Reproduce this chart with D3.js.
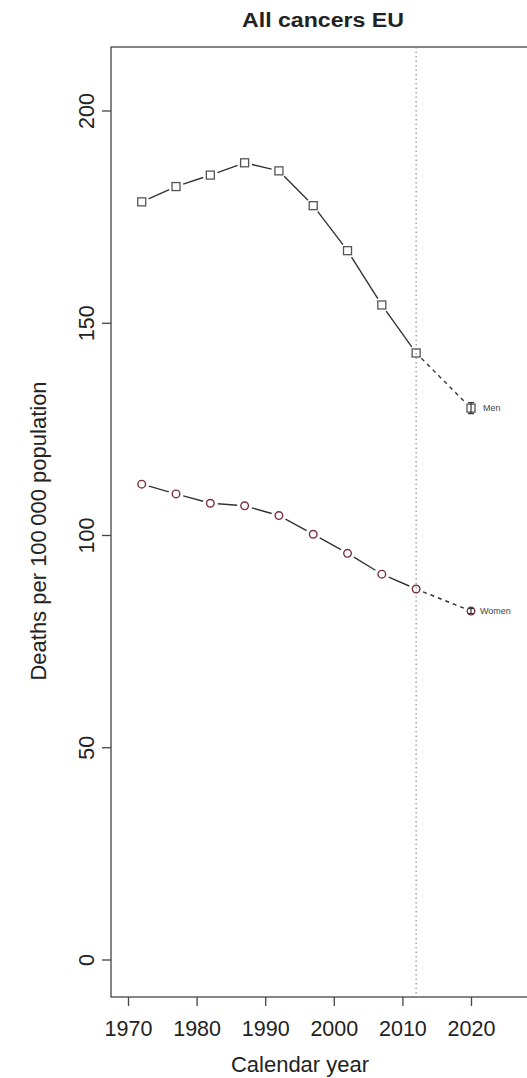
<!DOCTYPE html>
<html>
<head>
<meta charset="utf-8">
<script src="https://cdn.jsdelivr.net/npm/d3@7"></script>
<style>
  body { margin: 0; background: #fff; }
  svg { display: block; font-family: 'Liberation Sans', Arial, sans-serif; }
</style>
</head>
<body>
<script>
// Observed rates (5-year mid-points) and 2020 predictions
const years = [1972, 1977, 1982, 1987, 1992, 1997, 2002, 2007, 2012]
const menRates = [178.6, 182.2, 184.9, 187.8, 185.9, 177.7, 167.1, 154.3, 143.0]
const womenRates = [112.1, 109.8, 107.6, 107.0, 104.7, 100.3, 95.8, 90.9, 87.4]
const predYear = 2020
const menPred = { value: 130.0, lo: 128.7, hi: 131.3 }
const womenPred = { value: 82.2, lo: 81.6, hi: 82.8 }
const xTicks = [1970, 1980, 1990, 2000, 2010, 2020]
const yTicks = [0, 50, 100, 150, 200]
const refYear = 2012

const width = 527, height = 1078
const box = { left: 111, right: 535, top: 47, bottom: 997 }

const svg = d3.select('body').append('svg')
  .attr('width', width).attr('height', height)

const x = d3.scaleLinear().domain([1970, 2020]).range([128, 471])
const y = d3.scaleLinear().domain([0, 200]).range([960, 111])

const axisColor = '#444'
const font = "'Liberation Sans', Arial, sans-serif"

// frame
svg.append('rect')
  .attr('x', box.left).attr('y', box.top)
  .attr('width', box.right - box.left).attr('height', box.bottom - box.top)
  .attr('fill', 'none').attr('stroke', axisColor).attr('stroke-width', 1.3)

// reference year
svg.append('line')
  .attr('x1', x(refYear)).attr('x2', x(refYear))
  .attr('y1', box.top).attr('y2', box.bottom)
  .attr('stroke', '#777').attr('stroke-width', 1).attr('stroke-dasharray', '1.5,3')

// axes
const xAxis = svg.append('g')
  .attr('transform', `translate(0,${box.bottom})`)
  .call(d3.axisBottom(x).tickValues(xTicks).tickFormat(d3.format('d')).tickSize(9).tickPadding(0))
xAxis.select('.domain').remove()
xAxis.selectAll('line').attr('stroke', axisColor).attr('stroke-width', 1.3)
xAxis.selectAll('text').attr('font-size', '21.5px').attr('fill', '#222')
  .attr('font-family', font).attr('y', 39).attr('dy', null)

const yAxis = svg.append('g')
  .attr('transform', `translate(${box.left},0)`)
  .call(d3.axisLeft(y).tickValues(yTicks).tickSize(9).tickPadding(0))
yAxis.select('.domain').remove()
yAxis.selectAll('.tick').attr('transform', null)
yAxis.selectAll('.tick line').attr('y1', d => y(d)).attr('y2', d => y(d))
  .attr('stroke', axisColor).attr('stroke-width', 1.3)
yAxis.selectAll('text')
  .attr('font-size', '21.5px').attr('fill', '#222')
  .attr('font-family', font)
  .attr('text-anchor', 'middle')
  .attr('x', 0).attr('y', 0).attr('dy', null)
  .attr('transform', d => `translate(-17,${y(d)}) rotate(-90)`)

// titles
svg.append('text')
  .attr('x', (box.left + box.right) / 2).attr('y', 27)
  .attr('text-anchor', 'middle').attr('font-weight', 'bold').attr('font-size', '20px')
  .attr('fill', '#222')
  .attr('textLength', 162).attr('lengthAdjust', 'spacingAndGlyphs')
  .text('All cancers EU')

svg.append('text')
  .attr('x', 300).attr('y', 1072)
  .attr('text-anchor', 'middle').attr('font-size', '22px').attr('fill', '#222')
  .text('Calendar year')

svg.append('text')
  .attr('transform', `translate(46,531) rotate(-90)`)
  .attr('text-anchor', 'middle').attr('font-size', '22px').attr('fill', '#222')
  .text('Deaths per 100\u2009000 population')

// segments with gaps around points (R type = "b")
function drawSegments(pts, gap, dash) {
  for (let i = 0; i < pts.length - 1; i++) {
    const [x1, y1] = pts[i], [x2, y2] = pts[i + 1]
    const len = Math.hypot(x2 - x1, y2 - y1)
    if (len <= 2 * gap) continue
    const ux = (x2 - x1) / len, uy = (y2 - y1) / len
    svg.append('line')
      .attr('x1', x1 + ux * gap).attr('y1', y1 + uy * gap)
      .attr('x2', x2 - ux * gap).attr('y2', y2 - uy * gap)
      .attr('stroke', '#333').attr('stroke-width', 1.4)
      .attr('stroke-dasharray', dash)
  }
}

function drawSeries(rates, pred, shape, color, label, labelGap) {
  const pts = years.map((yr, i) => [x(yr), y(rates[i])])
  drawSegments(pts, 7.5, null)
  drawSegments([pts[pts.length - 1], [x(predYear), y(pred.value)]], 7.5, '4,4')

  const marker = (cx, cy) => {
    if (shape === 'square') {
      svg.append('rect')
        .attr('x', cx - 4).attr('y', cy - 4).attr('width', 8).attr('height', 8)
        .attr('fill', 'none').attr('stroke', color).attr('stroke-width', 1.3)
    } else {
      svg.append('circle')
        .attr('cx', cx).attr('cy', cy).attr('r', 3.8)
        .attr('fill', 'none').attr('stroke', color).attr('stroke-width', 1.4)
    }
  }
  pts.forEach(([cx, cy]) => marker(cx, cy))

  // prediction with interval
  const px = x(predYear)
  marker(px, y(pred.value))
  svg.append('line')
    .attr('x1', px).attr('x2', px).attr('y1', y(pred.lo)).attr('y2', y(pred.hi))
    .attr('stroke', '#333').attr('stroke-width', 1.2)
  ;[pred.lo, pred.hi].forEach(v => {
    svg.append('line')
      .attr('x1', px - 3).attr('x2', px + 3).attr('y1', y(v)).attr('y2', y(v))
      .attr('stroke', '#333').attr('stroke-width', 1.2)
  })
  svg.append('text')
    .attr('x', px + labelGap).attr('y', y(pred.value)).attr('dy', '0.35em')
    .attr('font-size', '9px').attr('fill', '#444').text(label)
}

drawSeries(menRates, menPred, 'square', '#555', 'Men', 12)
drawSeries(womenRates, womenPred, 'circle', '#7a2e3e', 'Women', 9)
</script>
</body>
</html>
